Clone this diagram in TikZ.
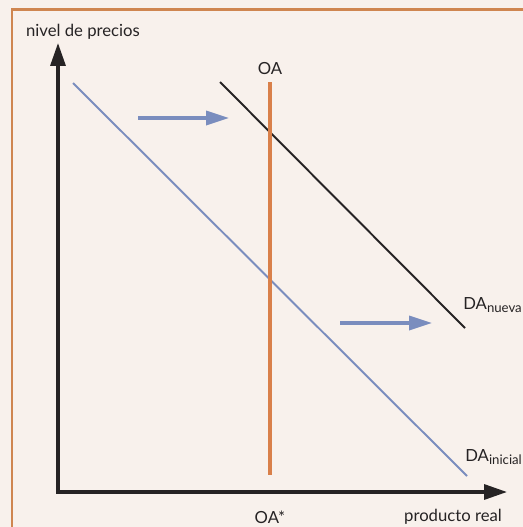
\documentclass[tikz,border=0pt]{standalone}
\usepackage{fontspec}
\setmainfont{Lato}
\usetikzlibrary{arrows.meta}
\definecolor{fondo}{HTML}{F8F1EC}
\definecolor{marco}{HTML}{CF8650}
\definecolor{azul}{HTML}{7A8DBE}
\definecolor{naranja}{HTML}{D9804A}
\definecolor{tinta}{HTML}{262324}
\tikzset{
  etiqueta/.style={text=tinta,font=\fontsize{9.5}{11}\selectfont,inner sep=0pt},
  eje/.style={tinta,line width=1.8pt,-{Triangle[length=13pt,width=8.5pt]}},
  desplaza/.style={azul,line width=1.8pt,-{Triangle[length=13pt,width=8pt]}}
}
\newcommand{\sub}[1]{\raisebox{-0.35ex}{\fontsize{7.5}{8}\selectfont #1}}
\begin{document}
\begin{tikzpicture}[x=0.2mm,y=-0.2mm]
			\fill[fondo] (0,0) rectangle (523,527);
			\useasboundingbox (0,0) rectangle (523,527);
			\draw[marco,line width=1.6pt] (12,527) -- (12,9.5) -- (523,9.5);
			\path (58,492) coordinate (O);
			\path (58,43) coordinate (Y);
			\path (507,492) coordinate (X);
			\path (73,83) coordinate (A1);
			\path (467,476) coordinate (B1);
			\path (220,82) coordinate (A2);
			\path (465,328) coordinate (B2);
			\path (270,82) coordinate (A3);
			\path (270,475) coordinate (B3);
			\path (138,118) coordinate (P1);
			\path (229,118) coordinate (Q1);
			\path (340,323) coordinate (P2);
			\path (432,323) coordinate (Q2);
			\draw[azul,line width=1.1pt] (A1) -- (B1);
			\draw[tinta,line width=1.1pt] (A2) -- (B2);
			\draw[naranja,line width=2pt] (A3) -- (B3);
			\draw[desplaza] (P1) -- (Q1);
			\draw[desplaza] (P2) -- (Q2);
			\draw[eje] (O) -- (Y);
			\draw[eje] ([xshift=-0.9pt]O) -- (X);
			\node[etiqueta] (py) at (83,32) {nivel de precios};
			\node[etiqueta] (oa) at (270,69) {OA};
			\node[etiqueta] (oas) at (270,517) {OA*};
			\node[etiqueta] (px) at (453,517) {producto real};
			\node[etiqueta,anchor=west] (dan) at (463,305) {DA\sub{nueva}};
			\node[etiqueta,anchor=west] (dai) at (465,457) {DA\sub{inicial}};
		\end{tikzpicture}
\end{document}
